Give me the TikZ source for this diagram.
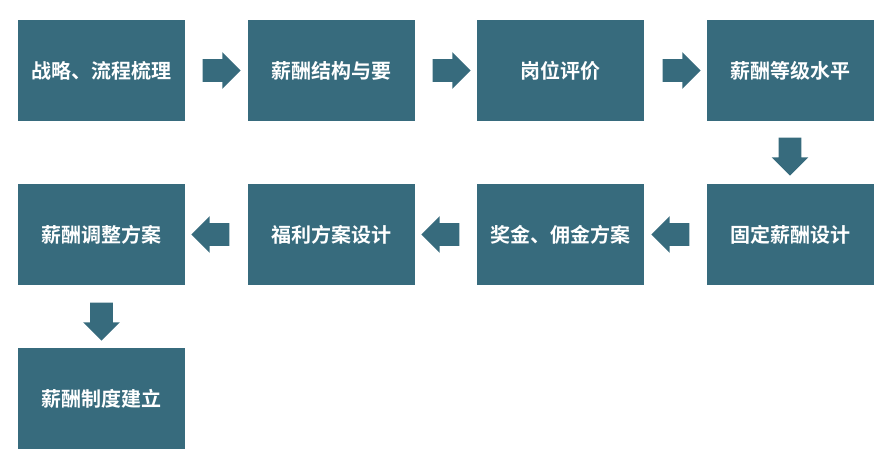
\documentclass[tikz,border=0pt]{standalone}
\usepackage{fontspec}
\setmainfont{Noto Sans CJK SC}[BoldFont={Noto Sans CJK SC Bold}]
\usetikzlibrary{shapes.arrows}
\definecolor{teal}{HTML}{376B7D}
\tikzset{
  stepbox/.style={fill=teal, text=white, minimum width=125.25pt, minimum height=75.75pt,
    text width=112pt, align=center, font=\bfseries\fontsize{15}{19}\selectfont, inner sep=0pt},
  blockarrow/.style={single arrow, fill=teal, inner sep=8.25pt, minimum height=28.5pt,
    single arrow head extend=5.25pt, single arrow tip angle=90}
}
\begin{document}
\begin{tikzpicture}[x=0.75pt, y=-0.75pt]
  \useasboundingbox (0,0) rectangle (893,467);
  % first row
  \node[stepbox] (s1) at (101.5,70.5) {战略、流程梳理};
  \node[stepbox] (s2) at (331,70.5) {薪酬结构与要};
  \node[stepbox] (s3) at (560.5,70.5) {岗位评价};
  \node[stepbox] (s4) at (790,70.5) {薪酬等级水平};
  % second row
  \node[stepbox] (s5) at (790,234.5) {固定薪酬设计};
  \node[stepbox] (s6) at (560.5,234.5) {奖金、佣金方案};
  \node[stepbox] (s7) at (331,234.5) {福利方案设计};
  \node[stepbox] (s8) at (101.5,234.5) {薪酬调整方案};
  % third row
  \node[stepbox] (s9) at (101.5,398.5) {薪酬制度建立};
  % arrows
  \node[blockarrow] (a1) at (216,70.5) {};
  \node[blockarrow] (a2) at (446,70.5) {};
  \node[blockarrow] (a3) at (676,70.5) {};
  \node[blockarrow, rotate=-90] (a4) at (790,151) {};
  \node[blockarrow, rotate=180] (a5) at (676,234.5) {};
  \node[blockarrow, rotate=180] (a6) at (446,234.5) {};
  \node[blockarrow, rotate=180] (a7) at (216,234.5) {};
  \node[blockarrow, rotate=-90] (a8) at (101.5,316) {};
\end{tikzpicture}
\end{document}
